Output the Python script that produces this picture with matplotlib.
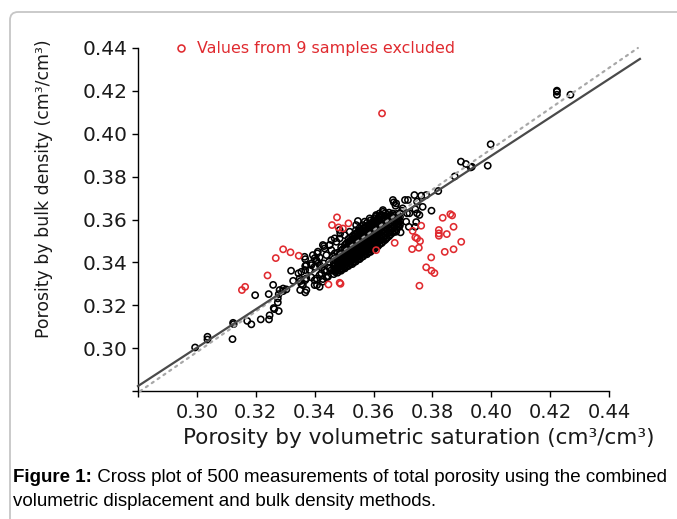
import matplotlib
matplotlib.use("Agg")
import matplotlib.pyplot as plt
from matplotlib.patches import FancyBboxPatch
from matplotlib.lines import Line2D
from matplotlib.transforms import IdentityTransform

# ---------------- data ----------------
# sparse black points (porosity by volumetric saturation, porosity by bulk density)
sparse_x = [0.2994, 0.3036, 0.3036, 0.3121, 0.3123, 0.3125, 0.3171, 0.3185, 0.3217, 0.3245,
            0.3247, 0.3261, 0.3263, 0.3278, 0.3275, 0.3275, 0.3278, 0.3293, 0.3304, 0.3198,
            0.3244, 0.3259, 0.3320, 0.3327, 0.3351, 0.3368, 0.3355, 0.3368, 0.3345, 0.3368,
            0.3368, 0.3368, 0.3389, 0.3389, 0.3408, 0.3432, 0.3409, 0.3372, 0.3352, 0.3281,
            0.3293, 0.3400, 0.3417, 0.3428, 0.3451, 0.3474, 0.3440, 0.3445, 0.3431, 0.3406,
            0.3417, 0.3394, 0.3411, 0.3451, 0.3457, 0.3468, 0.3485, 0.3487, 0.3547, 0.3434,
            0.3449, 0.3423, 0.3383, 0.3389,
            0.3669, 0.3675, 0.3697, 0.3714, 0.3742, 0.3767, 0.3748, 0.3756, 0.3797, 0.3720,
            0.3745, 0.3742, 0.3739, 0.3762, 0.3779, 0.3820, 0.3707, 0.3748, 0.3683, 0.3683,
            0.3677, 0.3692, 0.3609, 0.3620, 0.3632, 0.3626, 0.3677, 0.3876, 0.3897, 0.3914,
            0.3930, 0.3934, 0.3988, 0.3998, 0.4223, 0.4223, 0.4223, 0.4269,
            0.3366, 0.3400, 0.3406, 0.3428, 0.3434, 0.3451, 0.3457, 0.3440, 0.3462, 0.3468,
            0.3372, 0.3383, 0.3400, 0.3417, 0.3423, 0.3440, 0.3457, 0.3406, 0.3428, 0.3445,
            0.3360, 0.3372, 0.3400, 0.3417, 0.3349, 0.3355, 0.3474, 0.3485, 0.3502, 0.3519,
            0.3541, 0.3570, 0.3587, 0.3609, 0.3632, 0.3666, 0.3677, 0.3717, 0.3699, 0.3609,
            0.3643, 0.3671, 0.3688, 0.3711, 0.3722, 0.3575, 0.3592, 0.3541, 0.3519, 0.3502,
            0.3485]
sparse_y = [0.3003, 0.3053, 0.3040, 0.3042, 0.3118, 0.3112, 0.3127, 0.3111, 0.3134, 0.3134,
            0.3153, 0.3187, 0.3182, 0.3173, 0.3213, 0.3232, 0.3252, 0.3266, 0.3274, 0.3247,
            0.3252, 0.3295, 0.3361, 0.3314, 0.3271, 0.3260, 0.3299, 0.3317, 0.3349, 0.3415,
            0.3383, 0.3364, 0.3387, 0.3330, 0.3294, 0.3476, 0.3442, 0.3325, 0.3313, 0.3271,
            0.3278, 0.3317, 0.3341, 0.3322, 0.3372, 0.3364, 0.3330, 0.3336, 0.3395, 0.3411,
            0.3423, 0.3434, 0.3450, 0.3481, 0.3504, 0.3512, 0.3551, 0.3535, 0.3593, 0.3364,
            0.3403, 0.3376, 0.3364, 0.3395,
            0.3680, 0.3664, 0.3641, 0.3629, 0.3648, 0.3659, 0.3629, 0.3621, 0.3641, 0.3566,
            0.3588, 0.3566, 0.3714, 0.3711, 0.3714, 0.3733, 0.3691, 0.3683, 0.3589, 0.3566,
            0.3543, 0.3540, 0.3616, 0.3628, 0.3636, 0.3621, 0.3597, 0.3801, 0.3870, 0.3859,
            0.3843, 0.3846, 0.3851, 0.3951, 0.4201, 0.4196, 0.4182, 0.4182,
            0.3426, 0.3419, 0.3403, 0.3481, 0.3465, 0.3481, 0.3457, 0.3434, 0.3426, 0.3442,
            0.3388, 0.3364, 0.3380, 0.3388, 0.3349, 0.3357, 0.3364, 0.3325, 0.3310, 0.3333,
            0.3294, 0.3271, 0.3294, 0.3286, 0.3325, 0.3356, 0.3496, 0.3512, 0.3527, 0.3543,
            0.3574, 0.3590, 0.3605, 0.3621, 0.3644, 0.3691, 0.3675, 0.3691, 0.3652, 0.3496,
            0.3512, 0.3543, 0.3566, 0.3590, 0.3629, 0.3450, 0.3465, 0.3419, 0.3395, 0.3380,
            0.3364]

# dense core of black points
core_x = ([0.3465] * 5 + [0.3478] * 6 + [0.3490] * 7 + [0.3503] * 7 + [0.3515] * 8 +
          [0.3528] * 8 + [0.3540] * 9 + [0.3553] * 9 + [0.3565] * 9 + [0.3578] * 9 +
          [0.3590] * 9 + [0.3603] * 9 + [0.3615] * 8 + [0.3628] * 8 + [0.3640] * 8 +
          [0.3653] * 7 + [0.3665] * 6 + [0.3678] * 5 + [0.3690] * 4)
core_y = [0.3345, 0.3362, 0.3380, 0.3398, 0.3415,
          0.3352, 0.3371, 0.3390, 0.3408, 0.3427, 0.3445,
          0.3361, 0.3380, 0.3398, 0.3417, 0.3436, 0.3455, 0.3470,
          0.3372, 0.3390, 0.3409, 0.3427, 0.3446, 0.3464, 0.3482,
          0.3383, 0.3401, 0.3420, 0.3438, 0.3457, 0.3476, 0.3494, 0.3510,
          0.3392, 0.3411, 0.3430, 0.3448, 0.3467, 0.3485, 0.3504, 0.3522,
          0.3404, 0.3422, 0.3441, 0.3460, 0.3478, 0.3497, 0.3515, 0.3533, 0.3550,
          0.3415, 0.3433, 0.3452, 0.3470, 0.3489, 0.3507, 0.3526, 0.3544, 0.3561,
          0.3428, 0.3446, 0.3465, 0.3483, 0.3502, 0.3520, 0.3539, 0.3557, 0.3574,
          0.3438, 0.3457, 0.3476, 0.3494, 0.3513, 0.3531, 0.3550, 0.3568, 0.3585,
          0.3449, 0.3468, 0.3487, 0.3505, 0.3524, 0.3542, 0.3561, 0.3579, 0.3596,
          0.3462, 0.3480, 0.3499, 0.3517, 0.3536, 0.3554, 0.3573, 0.3591, 0.3606,
          0.3475, 0.3494, 0.3512, 0.3531, 0.3549, 0.3568, 0.3586, 0.3604,
          0.3490, 0.3509, 0.3527, 0.3546, 0.3564, 0.3583, 0.3601, 0.3618,
          0.3505, 0.3524, 0.3542, 0.3561, 0.3579, 0.3598, 0.3616, 0.3630,
          0.3522, 0.3540, 0.3559, 0.3577, 0.3596, 0.3614, 0.3632,
          0.3538, 0.3556, 0.3575, 0.3593, 0.3612, 0.3628,
          0.3555, 0.3573, 0.3592, 0.3610, 0.3626,
          0.3575, 0.3594, 0.3612, 0.3630]

# second, interleaved layer of the dense core
core2_x = ([0.3471] * 4 + [0.3484] * 5 + [0.3496] * 6 + [0.3509] * 7 + [0.3521] * 7 +
           [0.3534] * 8 + [0.3546] * 8 + [0.3559] * 8 + [0.3571] * 8 + [0.3584] * 8 +
           [0.3596] * 8 + [0.3609] * 8 + [0.3621] * 8 + [0.3634] * 7 + [0.3646] * 7 +
           [0.3659] * 6 + [0.3671] * 5 + [0.3684] * 4)
core2_y = [0.3354, 0.3372, 0.3390, 0.3407,
           0.3362, 0.3381, 0.3399, 0.3418, 0.3436,
           0.3370, 0.3389, 0.3408, 0.3426, 0.3445, 0.3462,
           0.3381, 0.3400, 0.3418, 0.3437, 0.3455, 0.3473, 0.3490,
           0.3392, 0.3410, 0.3429, 0.3447, 0.3466, 0.3485, 0.3502,
           0.3401, 0.3420, 0.3439, 0.3457, 0.3476, 0.3494, 0.3513, 0.3530,
           0.3413, 0.3431, 0.3450, 0.3469, 0.3487, 0.3506, 0.3524, 0.3541,
           0.3424, 0.3442, 0.3461, 0.3479, 0.3498, 0.3516, 0.3535, 0.3552,
           0.3437, 0.3455, 0.3474, 0.3492, 0.3511, 0.3529, 0.3548, 0.3565,
           0.3447, 0.3466, 0.3485, 0.3503, 0.3522, 0.3540, 0.3559, 0.3577,
           0.3458, 0.3477, 0.3496, 0.3514, 0.3533, 0.3551, 0.3570, 0.3588,
           0.3471, 0.3489, 0.3508, 0.3526, 0.3545, 0.3563, 0.3582, 0.3598,
           0.3484, 0.3503, 0.3521, 0.3540, 0.3558, 0.3577, 0.3595, 0.3611,
           0.3499, 0.3518, 0.3536, 0.3555, 0.3573, 0.3592, 0.3609,
           0.3514, 0.3533, 0.3551, 0.3570, 0.3588, 0.3607, 0.3622,
           0.3531, 0.3549, 0.3568, 0.3586, 0.3605, 0.3620,
           0.3547, 0.3565, 0.3584, 0.3602, 0.3619,
           0.3566, 0.3584, 0.3602, 0.3618]

# values from the 9 excluded samples (red)
excl_x = [0.3293, 0.3318, 0.3346, 0.3268, 0.3240, 0.3164, 0.3153, 0.3476, 0.3459, 0.3481,
          0.3496, 0.3515, 0.3447, 0.3485, 0.3488, 0.3609, 0.3672, 0.3733, 0.3762, 0.3742,
          0.3748, 0.3758, 0.3731, 0.3754, 0.3796, 0.3779, 0.3797, 0.3807, 0.3756, 0.3835,
          0.3861, 0.3867, 0.3822, 0.3822, 0.3822, 0.3849, 0.3872, 0.3898, 0.3872, 0.3842,
          0.3629]
excl_y = [0.3461, 0.3447, 0.3431, 0.3420, 0.3339, 0.3286, 0.3271, 0.3610, 0.3574, 0.3563,
          0.3558, 0.3582, 0.3297, 0.3305, 0.3300, 0.3457, 0.3491, 0.3547, 0.3571, 0.3517,
          0.3512, 0.3499, 0.3462, 0.3468, 0.3423, 0.3377, 0.3361, 0.3350, 0.3291, 0.3608,
          0.3625, 0.3619, 0.3551, 0.3535, 0.3524, 0.3532, 0.3566, 0.3496, 0.3461, 0.3449,
          0.4095]

# regression line and reference line end points
fit_x = [0.2800, 0.4505]
fit_y = [0.2823, 0.4349]
ref_x = [0.2807, 0.4498]
ref_y = [0.2799, 0.4400]

ticks = [0.28, 0.30, 0.32, 0.34, 0.36, 0.38, 0.40, 0.42, 0.44]
tick_labels = ["", "0.30", "0.32", "0.34", "0.36", "0.38", "0.40", "0.42", "0.44"]

xlabel = "Porosity by volumetric saturation (cm³/cm³)"
ylabel = "Porosity by bulk density (cm³/cm³)"
legend_label = "Values from 9 samples excluded"
caption_bold = "Figure 1:"
caption_1 = " Cross plot of 500 measurements of total porosity using the combined"
caption_2 = "volumetric displacement and bulk density methods."

# ---------------- figure ----------------
W, H = 677, 519
fig = plt.figure(figsize=(W / 100, H / 100), dpi=100)
fig.patch.set_facecolor("white")

# outer rounded frame
frame = FancyBboxPatch((10, -30), 720, (H - 12) + 30,
                       boxstyle="round,pad=0,rounding_size=8",
                       transform=IdentityTransform(), facecolor="none",
                       edgecolor="#c6c6c6", linewidth=1.3, clip_on=False)
fig.add_artist(frame)

L, R, B, T = 138, 609, 391, 48
ax = fig.add_axes([L / W, 1 - B / H, (R - L) / W, (B - T) / H])
ax.set_xlim(0.28, 0.44)
ax.set_ylim(0.28, 0.44)
for s in ["top", "right"]:
    ax.spines[s].set_visible(False)
for s in ["left", "bottom"]:
    ax.spines[s].set_linewidth(1.0)
    ax.spines[s].set_color("black")

ax.set_xticks(ticks)
ax.set_xticklabels(tick_labels)
ax.set_yticks(ticks)
ax.set_yticklabels(tick_labels)
ax.tick_params(axis="both", direction="out", length=4.3, width=1.0, color="black")
ax.tick_params(axis="x", pad=4.5, labelsize=14)
ax.tick_params(axis="y", pad=3.5, labelsize=14.5)
for lab in ax.get_xticklabels() + ax.get_yticklabels():
    lab.set_family("DejaVu Sans")
    lab.set_color("#1a1a1a")

red = "#e02a2f"
msize, mlw = 20, 1.15
ax.scatter(sparse_x, sparse_y, s=msize, facecolors="none", edgecolors="black",
           linewidths=mlw, zorder=2)
ax.scatter(core_x, core_y, s=msize, facecolors="none", edgecolors="black",
           linewidths=mlw, zorder=2)
ax.scatter(core2_x, core2_y, s=msize, facecolors="none", edgecolors="black",
           linewidths=mlw, zorder=2)
ax.plot(ref_x, ref_y, color="#a8a8a8", lw=1.6, linestyle=(0, (1.0, 2.2)),
        dash_capstyle="round", clip_on=False, zorder=3)
ax.plot(fit_x, fit_y, color="#4a4a4a", lw=1.6, clip_on=False, zorder=3)
ax.scatter(excl_x, excl_y, s=msize, facecolors="none", edgecolors=red,
           linewidths=mlw, zorder=4)

xl = ax.set_xlabel(xlabel, fontsize=14, family="DejaVu Sans", color="#1a1a1a")
yl = ax.set_ylabel(ylabel, fontsize=11, family="DejaVu Sans", color="#1a1a1a")
xl.set_verticalalignment("center")
yl.set_verticalalignment("center")
ax.xaxis.set_label_coords((419 - L) / (R - L), (B - 438) / (B - T))
ax.yaxis.set_label_coords((44 - L) / (R - L), (B - 189) / (B - T))

# legend entry
leg_marker = Line2D([181 / W], [1 - 48 / H], transform=fig.transFigure, marker="o",
                    ls="", markersize=5.0, markerfacecolor="none",
                    markeredgecolor=red, markeredgewidth=1.15)
fig.add_artist(leg_marker)
leg_text = fig.text(197 / W, 1 - 48 / H, legend_label, color=red, fontsize=11,
                    family="DejaVu Sans", ha="left", va="center")

cap_b = fig.text(13 / W, 1 - 478 / H, caption_bold, fontsize=12, weight="bold",
                 family="Liberation Sans", ha="left", va="center", color="black")
cap_1 = fig.text(13 / W, 1 - 478 / H, caption_1, fontsize=12,
                 family="Liberation Sans", ha="left", va="center", color="black")
cap_2 = fig.text(13 / W, 1 - 502 / H, caption_2, fontsize=12,
                 family="Liberation Sans", ha="left", va="center", color="black")

# fit text sizes to the reference extents
fig.canvas.draw()
rend = fig.canvas.get_renderer()


def fit(t, target, dim="w"):
    bb = t.get_window_extent(rend)
    cur = bb.width if dim == "w" else bb.height
    t.set_fontsize(t.get_fontsize() * target / cur)


fit(xl, 472, "w")
fit(yl, 298, "h")
fit(leg_text, 258, "w")
wb = cap_b.get_window_extent(rend).width
w1 = cap_1.get_window_extent(rend).width
scale = 657 / (wb + w1)
for t in (cap_b, cap_1, cap_2):
    t.set_fontsize(t.get_fontsize() * scale)
fig.canvas.draw()
wb = cap_b.get_window_extent(rend).width
cap_1.set_x((13 + wb) / W)

fig.savefig("out.png", dpi=100, facecolor="white")
